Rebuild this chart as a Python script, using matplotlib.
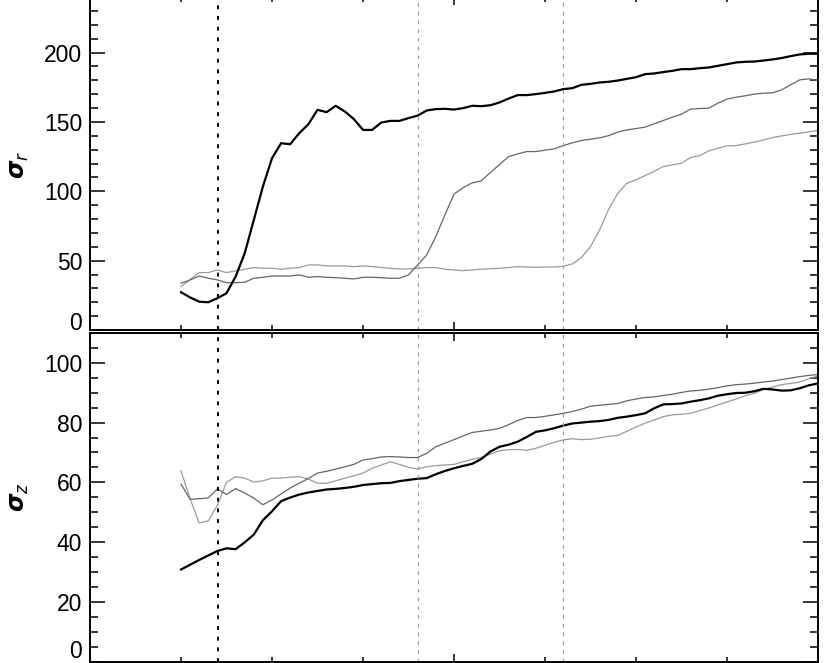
import numpy as np
import matplotlib
matplotlib.use("Agg")
import matplotlib.pyplot as plt
from matplotlib.ticker import MultipleLocator, FuncFormatter
from matplotlib.transforms import offset_copy

plt.rcParams['font.family'] = ['Liberation Sans', 'DejaVu Sans']
plt.rcParams['mathtext.fontset'] = 'dejavusans'

# time axis (arbitrary units, samples every 0.1 from 1 to 8)
time = np.arange(10, 81) / 10.0

# sigma_r
sig_r_black = [27.2, 23.5, 20.4, 20.0, 22.9, 26.5, 38.5, 55.3, 79.3, 103.4,
               123.8, 134.6, 133.9, 141.9, 148.3, 158.7, 157.0, 161.6, 157.5, 152.0,
               144.2, 144.2, 149.5, 150.7, 150.7, 152.7, 154.5, 158.2, 159.2, 159.4,
               158.9, 159.9, 161.6, 161.3, 162.0, 164.0, 166.8, 169.3, 169.3, 170.0,
               170.9, 171.9, 173.6, 174.3, 176.7, 177.4, 178.4, 178.9, 179.8, 181.0,
               182.2, 184.4, 184.9, 185.9, 186.8, 188.0, 188.0, 188.7, 189.2, 190.4,
               191.6, 192.8, 193.3, 193.5, 194.2, 195.0, 196.0, 197.4, 198.6, 199.1,
               199.1]
sig_r_dark = [33.7, 36.1, 38.9, 37.3, 36.1, 34.1, 34.1, 34.4, 37.3, 38.0,
              38.9, 38.9, 38.9, 39.7, 38.0, 38.5, 38.0, 37.7, 37.3, 36.8,
              38.0, 38.0, 37.7, 37.3, 37.3, 39.7, 46.9, 54.1, 67.3, 82.9,
              97.9, 102.6, 106.0, 107.5, 113.5, 119.2, 125.0, 126.9, 128.6, 128.6,
              129.6, 130.5, 132.9, 134.9, 136.6, 137.5, 138.5, 140.1, 142.6, 144.2,
              145.2, 146.2, 148.6, 151.0, 153.4, 155.6, 159.2, 159.6, 159.9, 163.5,
              166.4, 167.8, 168.8, 170.0, 170.7, 170.9, 173.1, 176.7, 180.3, 181.0,
              179.8]
sig_r_light = [31.3, 36.3, 41.4, 41.4, 43.3, 41.4, 42.6, 43.8, 45.0, 44.5,
               44.5, 43.8, 44.5, 45.0, 46.9, 46.9, 46.2, 46.2, 46.2, 45.7,
               46.2, 45.7, 45.0, 44.5, 44.0, 44.0, 44.5, 45.0, 45.0, 43.8,
               43.3, 42.8, 43.3, 43.8, 44.2, 44.5, 45.0, 45.7, 45.4, 45.2,
               45.4, 45.4, 45.9, 47.6, 52.2, 60.1, 72.1, 87.0, 98.6, 105.8,
               108.2, 111.3, 114.4, 117.8, 119.0, 120.2, 124.3, 125.7, 129.1, 131.0,
               132.7, 132.9, 134.1, 135.4, 137.0, 138.7, 139.9, 140.9, 141.9, 142.8,
               143.8]

# sigma_z
sig_z_black = [30.8, 32.4, 34.0, 35.5, 37.0, 37.9, 37.6, 39.9, 42.5, 47.3,
               50.3, 53.7, 54.9, 55.9, 56.6, 57.1, 57.6, 57.8, 58.1, 58.5,
               59.1, 59.4, 59.7, 59.8, 60.4, 60.8, 61.2, 61.4, 62.7, 63.8,
               64.7, 65.5, 66.2, 67.8, 70.3, 71.9, 72.6, 73.6, 75.2, 76.9,
               77.4, 78.1, 79.0, 79.7, 80.0, 80.3, 80.5, 80.9, 81.6, 82.0,
               82.5, 83.1, 84.8, 86.1, 86.2, 86.4, 87.0, 87.5, 88.1, 89.0,
               89.5, 89.9, 90.0, 90.5, 91.3, 91.1, 90.7, 90.8, 91.5, 92.5,
               93.1]
sig_z_dark = [59.4, 54.3, 54.5, 54.8, 57.8, 55.9, 57.9, 56.4, 54.7, 52.5,
              54.1, 56.1, 58.1, 59.7, 61.3, 63.1, 63.7, 64.4, 65.2, 66.0,
              67.5, 67.9, 68.5, 68.6, 68.5, 68.3, 68.3, 69.7, 71.9, 73.1,
              74.3, 75.5, 76.7, 77.1, 77.5, 78.1, 79.3, 80.7, 81.7, 81.7,
              82.1, 82.6, 83.1, 83.7, 84.5, 85.5, 85.8, 86.1, 86.4, 87.3,
              87.9, 88.4, 88.6, 89.1, 89.5, 90.1, 90.6, 90.8, 91.2, 91.7,
              92.3, 92.7, 92.9, 93.2, 93.6, 93.9, 94.4, 94.9, 95.4, 95.8,
              96.1]
sig_z_light = [63.8, 54.5, 46.4, 47.1, 52.3, 60.0, 61.9, 61.4, 60.1, 60.5,
               61.4, 61.4, 61.7, 61.9, 61.1, 59.7, 59.7, 60.5, 61.4, 62.2,
               63.1, 64.7, 65.8, 66.9, 66.0, 65.0, 64.5, 65.2, 65.6, 65.8,
               66.0, 66.9, 67.7, 68.3, 69.4, 70.6, 70.9, 71.0, 70.7, 71.4,
               72.4, 73.4, 74.2, 74.6, 74.3, 74.4, 74.9, 75.4, 75.7, 77.1,
               78.5, 79.8, 80.9, 82.0, 82.6, 82.8, 83.1, 84.0, 84.9, 85.9,
               86.9, 87.9, 89.0, 89.8, 91.1, 91.9, 92.7, 93.1, 93.6, 94.7,
               95.6]

black_event = 1.41
grey_events = [3.6, 5.2]

W, H = 830, 663
fig = plt.figure(figsize=(W / 100, H / 100), dpi=100)
left = 90 / W
width = 728 / W
ax1 = fig.add_axes([left, (H - 330) / H, width, 333 / H])
ax2 = fig.add_axes([left, 1.5 / H, width, 328.5 / H])

panels = [
    (ax1, sig_r_black, sig_r_dark, sig_r_light, 240, 50, 10, 'r', -3.5),
    (ax2, sig_z_black, sig_z_dark, sig_z_light, 110, 20, 5, 'z', -1.0),
]

for ax, blk, drk, lgt, ytop, ymaj, ymin, sub, zero_dy in panels:
    ax.plot(time, lgt, color='#9a9a9a', lw=0.9)
    ax.plot(time, drk, color='#666666', lw=0.9)
    ax.plot(time, blk, color='black', lw=1.6)
    ax.axvline(black_event, color='black', lw=1.4, ls=(0, (2, 3.5)))
    for ev in grey_events:
        ax.axvline(ev, color='#a0a0a0', lw=0.9, ls=(0, (3, 4)))

    ax.set_xlim(0, 8)
    ax.set_ylim(0, ytop)
    ax.xaxis.set_major_locator(MultipleLocator(4))
    ax.xaxis.set_minor_locator(MultipleLocator(1))
    ax.yaxis.set_major_locator(MultipleLocator(ymaj))
    ax.yaxis.set_minor_locator(MultipleLocator(ymin))
    ax.tick_params(axis='both', which='both', direction='in',
                   top=True, bottom=True, left=True, right=True, width=1.1)
    ax.tick_params(axis='y', which='major', length=10.5, pad=5.5, labelsize=16.5)
    ax.tick_params(axis='y', which='minor', length=5.5)
    ax.tick_params(axis='x', which='major', length=5.5)
    ax.tick_params(axis='x', which='minor', length=3.5)
    ax.xaxis.set_major_formatter(FuncFormatter(lambda v, p: ''))
    ax.yaxis.set_major_formatter(
        FuncFormatter(lambda v, p, t=ytop: '' if v == 0 or v > t else '%d' % v))
    for sp in ax.spines.values():
        sp.set_linewidth(1.4)

    # bottom label sits on the axis, not centred on the tick
    tr = offset_copy(ax.get_yaxis_transform(), fig=fig, x=-5.5, y=zero_dy, units='points')
    ax.text(0, 0, '0', transform=tr, ha='right', va='bottom', fontsize=16.5)

    pos = ax.get_position()
    fig.text(20 / W, (pos.y0 + min(pos.y1, 1.0)) / 2, r'$\boldsymbol{\sigma}_{%s}$' % sub,
             rotation=90, ha='center', va='center', fontsize=17)

fig.savefig('out.png', dpi=100)
